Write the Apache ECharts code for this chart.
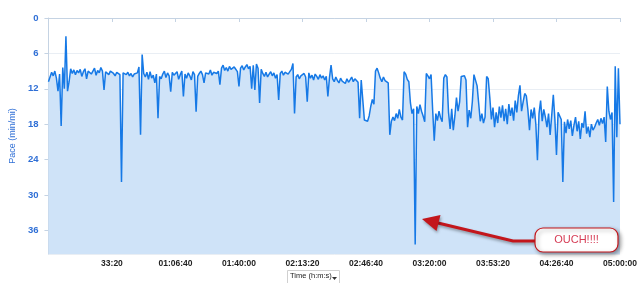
<!DOCTYPE html>
<html>
<head>
<meta charset="utf-8">
<script src="https://cdn.jsdelivr.net/npm/echarts@6/dist/echarts.min.js"></script>
<style>
html,body{margin:0;padding:0;background:#fff;}
#chart{width:640px;height:283px;}
</style>
</head>
<body>
<div id="chart"></div>
<script>
// Sampling interval of the recorded track (seconds between samples)
const sampleSeconds = 50;

// Pace samples (min/mi), one per sample interval starting at 0 s
const pace = [
  10.8, 10.5, 9.2, 9.8, 9.0, 10.2, 12.4, 9.5, 18.3, 8.4, 12.0, 3.1, 12.4, 10.8, 8.6, 9.4,
  8.8, 9.6, 8.9, 9.3, 8.7, 9.9, 9.1, 8.6, 10.3, 9.0, 8.8, 9.5, 9.2, 8.5, 9.7, 8.9,
  9.3, 8.4, 9.0, 12.2, 9.1, 8.8, 9.6, 9.0, 8.7, 9.4, 9.8, 9.2, 8.9, 9.6, 27.8,
  9.3, 9.1, 9.6, 9.2, 9.8, 9.4, 10.0, 9.5, 9.7, 9.3, 8.3, 19.8, 6.2,
  9.4, 10.0, 9.2, 10.4, 9.1, 10.2, 9.7, 11.0, 9.5, 17.0, 9.9, 10.3,
  9.5, 9.0, 10.1, 9.3, 9.8, 12.5, 9.2, 9.7, 10.0, 9.1, 10.4, 9.6, 9.0, 13.3, 9.5, 10.2,
  9.3, 9.8, 10.5, 9.1, 9.6, 15.9, 9.9, 9.4, 9.0, 9.6, 11.0, 9.3, 9.0, 9.5, 8.8, 9.7,
  9.2, 8.9, 9.4, 9.0, 11.3, 8.5, 8.0, 8.9, 8.4, 9.0, 8.2, 8.7, 8.9, 8.3, 8.6, 9.1,
  11.6, 8.5, 8.1, 8.8, 8.3, 7.9, 8.6, 8.2, 12.0, 8.0, 12.2, 7.8, 8.5, 14.4, 8.7,
  9.4, 9.9, 9.2, 10.0, 9.5, 9.1, 9.8, 9.3, 10.2, 9.6, 13.9, 9.4, 9.0, 9.7, 9.2, 8.9,
  9.5, 9.1, 8.7, 7.7, 16.2, 10.0, 9.6, 10.3, 9.8, 10.1, 9.4, 10.0, 14.2, 9.3, 10.2, 9.7,
  10.5, 9.5, 9.9, 10.4, 9.6, 10.2, 9.8, 10.5, 9.9, 13.3, 10.1, 8.0, 10.3, 10.8, 10.0, 10.6,
  11.0, 10.2, 10.7, 10.4, 11.1, 10.3, 10.9, 10.5, 10.0, 10.8, 10.3, 10.6, 10.9,
  17.0, 10.5, 10.2, 17.3, 17.0, 17.5, 16.6, 15.0, 13.8, 14.6, 9.0, 8.5, 9.3, 10.2, 10.8, 10.0,
  10.6, 10.3, 11.0, 19.8, 17.5, 16.8, 17.4, 16.2, 17.0, 15.5, 16.8, 17.3, 9.1, 9.5, 10.4, 10.8,
  14.4, 16.2, 15.4, 38.4, 15.0, 16.2, 14.7, 15.8, 16.6, 17.6, 9.4, 9.8, 10.3, 9.6, 15.6, 20.8,
  16.2, 17.4, 15.8, 16.9, 17.6, 10.2, 9.6, 10.0, 16.0, 18.8, 15.4, 19.0, 16.6, 13.5, 15.8, 14.2,
  9.9, 10.2, 9.8, 10.5, 18.5, 15.6, 17.0, 14.2, 9.6, 9.8, 11.5, 14.5, 17.5, 16.2, 17.8, 16.8,
  9.9, 10.3, 13.5, 17.2, 15.2, 18.5, 16.0, 17.8, 15.0, 16.9, 14.8, 17.5, 15.4, 18.0, 14.6, 16.6,
  15.2, 17.4, 14.0, 16.0, 13.2, 11.4, 15.8, 14.2, 12.8, 13.2, 15.6, 19.0, 15.5, 17.0, 15.2, 18.0,
  24.1, 16.2, 14.0, 17.5, 15.5, 16.8, 18.5, 16.2, 19.8, 16.5, 13.0, 17.2, 23.2, 16.0,
  15.8, 17.2, 27.8, 17.6, 19.5, 17.2, 18.8, 17.4, 20.0, 18.2, 16.8, 19.2, 17.5, 20.5, 17.8, 18.6,
  15.8, 19.6, 18.4, 20.2, 18.0, 19.0, 18.5, 17.8, 17.2, 18.2, 17.0, 17.9, 16.8, 21.0, 11.6, 15.8,
  17.2, 16.0, 31.2, 8.2, 20.2, 8.5, 18.0
];

// Axis ticks
const timeTicksSeconds = [0, 2000, 4000, 6000, 8000, 10000, 12000, 14000, 16000, 18000];
const paceTicks = [0, 6, 12, 18, 24, 30, 36];

const xAxisTitle = 'Time (h:m:s)';
const yAxisTitle = 'Pace (min/mi)';
const calloutText = 'OUCH!!!!';

function fmtTime(s) {
  const h = Math.floor(s / 3600);
  const m = Math.floor((s % 3600) / 60);
  const sec = Math.round(s % 60);
  const p = n => (n < 10 ? '0' : '') + n;
  if (h === 0) return p(m) + ':' + p(sec);
  return p(h) + ':' + p(m) + ':' + p(sec);
}

const seriesData = pace.map((v, i) => [i * sampleSeconds, v]);

const chart = echarts.init(document.getElementById('chart'), null, {renderer: 'canvas'});

const FONT = '"Liberation Sans", Arial, sans-serif';
const RED = '#c3161c';
const SHADOW = {shadowBlur: 3, shadowColor: 'rgba(0,0,0,0.35)', shadowOffsetX: 1, shadowOffsetY: 2};

chart.setOption({
  animation: false,
  backgroundColor: '#ffffff',
  grid: {left: 46, right: 20, top: 18, height: 236, containLabel: false},
  xAxis: {
    type: 'value',
    min: timeTicksSeconds[0],
    max: timeTicksSeconds[timeTicksSeconds.length - 1],
    interval: timeTicksSeconds[1] - timeTicksSeconds[0],
    axisLine: {show: true, lineStyle: {color: '#c5d3e3', width: 1}},
    axisTick: {show: true, length: 4, lineStyle: {color: '#c5d3e3'}},
    splitLine: {show: false},
    axisLabel: {
      showMinLabel: false,
      color: '#222',
      fontWeight: 'bold',
      fontSize: 8.5,
      fontFamily: FONT,
      margin: 5,
      formatter: v => fmtTime(v)
    }
  },
  yAxis: {
    type: 'value',
    inverse: true,
    min: paceTicks[0],
    max: 40,
    interval: paceTicks[1] - paceTicks[0],
    offset: 4,
    name: yAxisTitle,
    nameLocation: 'middle',
    nameGap: 24,
    nameTextStyle: {color: '#2f6fd6', fontSize: 9, fontFamily: FONT},
    axisLine: {show: true, lineStyle: {color: '#c5d3e3', width: 1}},
    axisTick: {show: true, length: 4, lineStyle: {color: '#c5d3e3'}},
    splitLine: {show: true, lineStyle: {color: '#e9eef4', width: 1}},
    axisLabel: {
      showMaxLabel: false,
      color: '#2f6fd6',
      fontWeight: 'bold',
      fontSize: 9.5,
      fontFamily: FONT,
      margin: 6
    }
  },
  series: [{
    type: 'line',
    data: seriesData,
    showSymbol: false,
    symbol: 'none',
    lineStyle: {color: '#1679e6', width: 1.5},
    areaStyle: {color: '#cfe3f8', opacity: 1, origin: 'end'},
    z: 2
  }],
  graphic: [
    // x-axis selector box
    {type: 'rect', z: 100, left: 287, top: 270, shape: {width: 52, height: 13},
     style: {fill: '#fff', stroke: '#d0d0d0', lineWidth: 1}},
    {type: 'text', z: 101, left: 290, top: 272,
     style: {text: xAxisTitle, fill: '#222', font: '7.5px ' + FONT}},
    {type: 'polygon', z: 101, shape: {points: [[332, 277], [337, 277], [334.5, 280]]},
     style: {fill: '#333'}},
    // callout arrow
    {type: 'polyline', z: 100, shape: {points: [[536, 241], [513, 241], [438, 223]]},
     style: Object.assign({stroke: RED, lineWidth: 3, fill: null}, SHADOW)},
    {type: 'polygon', z: 100, shape: {points: [[422, 219], [440.5, 215], [436.5, 231]]},
     style: Object.assign({fill: RED}, SHADOW)},
    // callout box
    {type: 'rect', z: 102, shape: {x: 535, y: 228, width: 83, height: 24, r: 8},
     style: {fill: '#ffffff', stroke: RED, lineWidth: 1.2,
       shadowBlur: 4, shadowColor: 'rgba(0,0,0,0.4)', shadowOffsetX: 2, shadowOffsetY: 2}},
    {type: 'text', z: 103, x: 576.5, y: 240,
     style: {text: calloutText, fill: '#d63c55', font: '11px ' + FONT, align: 'center', verticalAlign: 'middle'}}
  ]
});
</script>
</body>
</html>
